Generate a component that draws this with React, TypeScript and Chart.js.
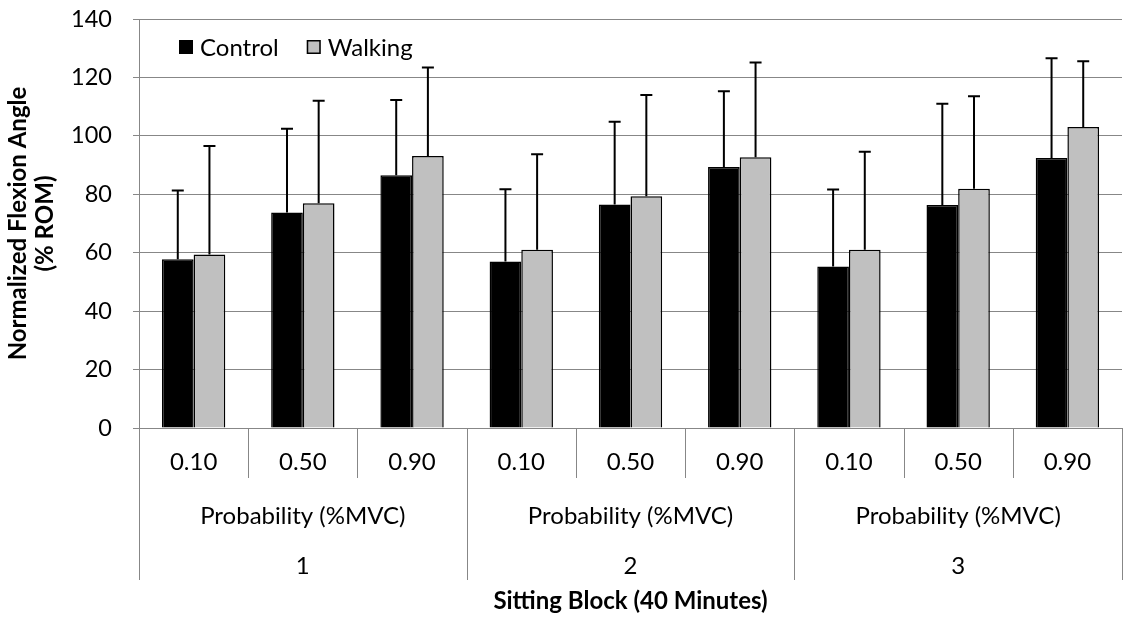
import React, { useEffect, useRef } from 'react';
import { Chart, registerables } from 'chart.js';

Chart.register(...registerables);

const probLevels = ['0.10', '0.50', '0.90'];
const blockLabels = ['1', '2', '3'];
const groupLabel = 'Probability (%MVC)';
const xTitle = 'Sitting Block (40 Minutes)';
const yTitle = ['Normalized Flexion Angle', '(% ROM)'];
const seriesNames = ['Control', 'Walking'];
const controlMean = [57.8, 73.8, 86.5, 57.0, 76.5, 89.3, 55.3, 76.3, 92.4];
const controlSD = [23.5, 28.6, 25.8, 24.7, 28.3, 26.0, 26.3, 34.7, 34.2];
const walkingMean = [59.4, 76.9, 93.1, 61.0, 79.3, 92.7, 61.0, 81.9, 103.0];
const walkingSD = [37.1, 35.1, 30.3, 32.7, 34.7, 32.4, 33.6, 31.7, 22.5];
const yMin = 0;
const yMax = 140;
const yStep = 20;

const FONT = 'Lato, "Open Sans", sans-serif';
const FS = 24;
const GRID = '#878787';
const seriesFill = ['#000000', '#C0C0C0'];
const sdSets = [controlSD, walkingSD];

const categories: string[] = [];
blockLabels.forEach(() => probLevels.forEach((p) => categories.push(p)));

const errorBarPlugin = {
  id: 'errorBars',
  afterDatasetsDraw(chart: any) {
    const ctx = chart.ctx;
    const ys = chart.scales.y;
    chart.data.datasets.forEach((ds: any, di: number) => {
      const meta = chart.getDatasetMeta(di);
      const sds = sdSets[di];
      meta.data.forEach((bar: any, i: number) => {
        const { x, y } = bar.getProps(['x', 'y'], true);
        const yErr = ys.getPixelForValue(ds.data[i] + sds[i]);
        ctx.save();
        ctx.strokeStyle = '#000';
        ctx.lineWidth = 2;
        ctx.beginPath();
        ctx.moveTo(x, y);
        ctx.lineTo(x, yErr);
        ctx.moveTo(x - 6, yErr);
        ctx.lineTo(x + 6, yErr);
        ctx.stroke();
        ctx.restore();
      });
    });
  },
};

const xLevelsPlugin = {
  id: 'xLevels',
  afterDraw(chart: any) {
    const { ctx, chartArea } = chart;
    const xs = chart.scales.x;
    const n = categories.length;
    const bottom = chartArea.bottom;
    const bounds: number[] = [];
    for (let i = 0; i <= n; i++) {
      if (i === 0) bounds.push(chartArea.left);
      else if (i === n) bounds.push(chartArea.right);
      else bounds.push((xs.getPixelForValue(i - 1) + xs.getPixelForValue(i)) / 2);
    }
    ctx.save();
    ctx.strokeStyle = GRID;
    ctx.lineWidth = 1;
    const per = probLevels.length;
    for (let i = 0; i <= n; i++) {
      const major = i % per === 0;
      const x = Math.round(bounds[i]) + 0.5;
      ctx.beginPath();
      ctx.moveTo(x, bottom);
      ctx.lineTo(x, bottom + (major ? 152 : 50));
      ctx.stroke();
    }
    ctx.fillStyle = '#000';
    ctx.textAlign = 'center';
    ctx.textBaseline = 'middle';
    ctx.font = `${FS}px ${FONT}`;
    for (let i = 0; i < n; i++) {
      ctx.fillText(categories[i], (bounds[i] + bounds[i + 1]) / 2, bottom + 34);
    }
    blockLabels.forEach((b, g) => {
      const cx = (bounds[g * per] + bounds[(g + 1) * per]) / 2;
      ctx.fillText(groupLabel, cx, bottom + 88);
      ctx.fillText(b, cx, bottom + 138);
    });
    ctx.restore();
  },
};

const legendPlugin = {
  id: 'customLegend',
  afterDraw(chart: any) {
    const { ctx, chartArea } = chart;
    ctx.save();
    ctx.font = `${FS}px ${FONT}`;
    ctx.textBaseline = 'middle';
    ctx.textAlign = 'left';
    let x = chartArea.left + 40;
    const y = chartArea.top + 21;
    seriesNames.forEach((name, i) => {
      ctx.fillStyle = seriesFill[i];
      ctx.fillRect(x, y, 14, 14);
      ctx.strokeStyle = '#000';
      ctx.lineWidth = 1.5;
      ctx.strokeRect(x + 0.75, y + 0.75, 12.5, 12.5);
      ctx.fillStyle = '#000';
      ctx.fillText(name, x + 21, y + 8);
      x += 21 + ctx.measureText(name).width + 28;
    });
    ctx.restore();
  },
};

export default function App() {
  const ref = useRef<HTMLCanvasElement | null>(null);
  useEffect(() => {
    if (!ref.current) return;
    const chart = new Chart(ref.current, {
      type: 'bar',
      data: {
        labels: categories,
        datasets: [
          {
            label: seriesNames[0],
            data: controlMean,
            backgroundColor: seriesFill[0],
            borderColor: '#000',
            borderWidth: 1.5,
            categoryPercentage: 0.58,
            barPercentage: 1,
          },
          {
            label: seriesNames[1],
            data: walkingMean,
            backgroundColor: seriesFill[1],
            borderColor: '#000',
            borderWidth: 1.5,
            categoryPercentage: 0.58,
            barPercentage: 1,
          },
        ],
      },
      options: {
        animation: false,
        responsive: true,
        maintainAspectRatio: false,
        layout: { padding: { top: 19, right: 16, left: 0, bottom: 0 } },
        plugins: {
          legend: { display: false },
          tooltip: { enabled: false },
        },
        scales: {
          x: {
            type: 'category',
            ticks: { display: false },
            grid: { display: false },
            border: { display: false },
            title: {
              display: true,
              text: xTitle,
              color: '#000',
              font: { family: FONT, size: FS, weight: 'bold' },
              padding: { top: 0, bottom: 2 },
            },
            afterFit: (s: any) => {
              s.height = 190;
              s.paddingLeft = 0;
              s.paddingRight = 0;
            },
          },
          y: {
            min: yMin,
            max: yMax,
            ticks: {
              stepSize: yStep,
              color: '#000',
              padding: 21,
              font: { family: FONT, size: 23.5 },
            },
            grid: { color: GRID, lineWidth: 1, tickLength: 6 },
            border: { display: true, color: GRID, width: 1 },
            title: {
              display: true,
              text: yTitle,
              color: '#000',
              font: { family: FONT, size: FS, weight: 'bold', lineHeight: 1.125 },
              padding: { top: 4.5, bottom: 0 },
            },
            afterFit: (s: any) => {
              s.width = 139;
              s.paddingTop = 0;
              s.paddingBottom = 0;
            },
          },
        },
      },
      plugins: [errorBarPlugin, xLevelsPlugin, legendPlugin],
    });
    return () => chart.destroy();
  }, []);
  return (
    <div style={{ position: 'absolute', left: 0, top: 0, width: 1138, height: 618 }}>
      <canvas ref={ref} />
    </div>
  );
}
